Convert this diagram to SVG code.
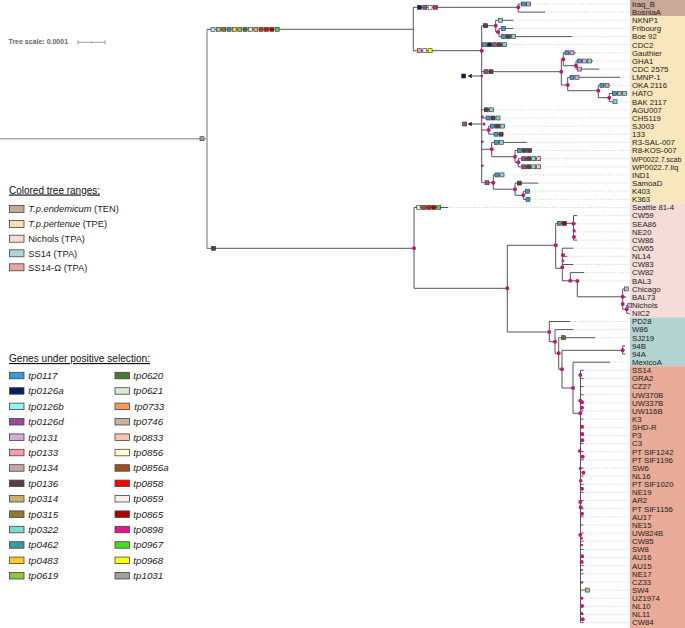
<svg xmlns="http://www.w3.org/2000/svg" width="685" height="628" viewBox="0 0 685 628">
<style>
text{font-family:"Liberation Sans",Arial,sans-serif}
.lab{font-size:7.8px;fill:#222}
.br{fill:none;stroke:#555;stroke-width:1}
.lg{fill:none;stroke:#aaa;stroke-width:1.6}
.dot{fill:none;stroke:#c4c4c4;stroke-width:0.8;stroke-dasharray:1 1.6}
.nd{fill:#c0187a}
.gb{stroke:#333;stroke-width:0.6}
.lb{stroke:#444;stroke-width:0.8}
.c0117{fill:#3a9ad9}.c0126a{fill:#0b1f5c}.c0126b{fill:#8ff5f5}.c0126d{fill:#9b4a96}
.c0131{fill:#d9a8d4}.c0133{fill:#ff99aa}.c0134{fill:#c4a8aa}.c0136{fill:#5a3e44}
.c0314{fill:#c8b464}.c0315{fill:#8b7a30}.c0322{fill:#7ddcc8}.c0462{fill:#3a9a9e}
.c0483{fill:#ffcc22}.c0619{fill:#8dc63f}.c0620{fill:#4f7a2e}.c0621{fill:#d8ecd4}
.c0733{fill:#ff9950}.c0746{fill:#d1b09e}.c0833{fill:#f5c6a8}.c0856{fill:#ffffcc}
.c0856a{fill:#a0501a}.c0858{fill:#ff0000}.c0859{fill:#fdeeee}.c0865{fill:#aa0000}
.c0898{fill:#e8168c}.c0967{fill:#44dd22}.c0968{fill:#ffff00}.c1031{fill:#a0a0a0}
.leg{font-size:9.3px;fill:#222}
.gl{font-size:9.8px;font-style:italic;fill:#222}
.ttl{font-size:11.5px;fill:#111;text-decoration:underline}
</style>

<g id="ranges">
<rect x="630" y="0" width="55" height="16.2" fill="#c9a897"/>
<rect x="630" y="16.2" width="55" height="187.2" fill="#f8e6bd"/>
<rect x="630" y="203.4" width="55" height="114" fill="#f4ddd9"/>
<rect x="630" y="317.4" width="55" height="48.8" fill="#b4d3d0"/>
<rect x="630" y="366.2" width="55" height="261.8" fill="#e8ab97"/>
</g>

<g id="scale">
<text x="8.5" y="43.5" font-size="7" font-weight="bold" fill="#666">Tree scale: 0.0001</text>
<path d="M78,42.3 H105 M78,40.3 V44.3 M105,40.3 V44.3 M91.5,41.3 V43.3" stroke="#888" stroke-width="0.8" fill="none"/>
</g>

<g id="connectors">
<path class="lg" d="M0,138.7 H200 M204,138.7 H207 M207,29.3 V248.3"/>
<path class="dot" d="M531,4 H630 M545,12.1 H630 M513.3,20.3 H630 M513.3,28.4 H630 M572.3,36.6 H630 M507,44.7 H630 M575.7,52.8 H630 M593,61 H630 M599,69.1 H630 M620,77.3 H630 M610,85.4 H630 M627,93.5 H630 M617,101.7 H630 M494,109.8 H630 M500,118 H630 M505,126.1 H630 M504,134.2 H630 M526.7,142.4 H630 M532,150.5 H630 M541,158.7 H630 M541,166.8 H630 M504,174.9 H630 M538.3,183.1 H630 M530,191.2 H630 M530,199.4 H630 M448,207.5 H630 M577,215.6 H630 M576,223.8 H630 M576,231.9 H630 M577,240.1 H630 M573.3,248.2 H630 M567,256.3 H630 M573,264.5 H630 M584,272.6 H630 M577.3,280.8 H630 M626,297 H630 M570,321.5 H630 M573.3,329.6 H630 M595,337.7 H630 M625,345.9 H630 M625,354 H630 M610,362.2 H630 M583.5,370.3 H630 M583.5,378.4 H630 M583.5,386.6 H630 M583.5,394.7 H630 M583.5,402.9 H630 M583.5,411 H630 M583.5,419.1 H630 M583.5,427.3 H630 M583.5,435.4 H630 M583.5,443.6 H630 M583.5,451.7 H630 M583.5,459.8 H630 M583.5,468 H630 M583.5,476.1 H630 M583.5,484.3 H630 M583.5,492.4 H630 M583.5,500.5 H630 M583.5,508.7 H630 M583.5,516.8 H630 M583.5,525 H630 M583.5,533.1 H630 M583.5,541.2 H630 M583.5,549.4 H630 M583.5,557.5 H630 M583.5,565.7 H630 M583.5,573.8 H630 M583.5,581.9 H630 M590,590.1 H630 M583.5,598.2 H630 M583.5,606.4 H630 M583.5,614.5 H630 M583.5,622.6 H630"/>
<path class="br" d="M207,29.3 H413.3 M207,248.3 H414
M413.3,7.3 V50.7 M413.3,7.3 H518.3 M518.3,4 V12.1 M518.3,4 H531 M518.3,12.1 H545
M413.3,50.7 H481.7 M481.7,25.7 V182.7
M481.7,25.7 H495.7 M495.7,20.3 V32 M495.7,20.3 H513.3 M495.7,32 H499 M499,28.4 V36.6 M499,28.4 H513.3 M499,36.6 H572.3
M481.7,44.7 H507
M481.7,71.7 H561.3 M481.7,76 H471.5
M561.3,59.3 V85 M561.3,59.3 H563.3 M563.3,52.8 V65.7 M563.3,52.8 H575.7 M563.3,65.7 H576 M576,61 V69.1 M576,61 H593 M576,69.1 H599
M561.3,85 H567.7 M567.7,77.3 V90.7 M567.7,77.3 H620 M567.7,90.7 H598.3 M598.3,85.4 V97.7 M598.3,85.4 H610 M598.3,97.7 H609.3 M609.3,93.5 V101.7 M609.3,93.5 H627 M609.3,101.7 H617
M481.7,109.8 H494 M481.7,118 H500 M481.7,130 H488.7 M488.7,126.1 V134.2 M488.7,126.1 H505 M488.7,134.2 H504 M481.7,124 H471.5
M481.7,149.3 H491.7 M491.7,142.4 V156.7 M491.7,142.4 H526.7 M491.7,156.7 H515 M515,150.5 V162.3 M515,150.5 H532 M515,162.3 H518.3 M518.3,158.7 V166.8 M518.3,158.7 H541 M518.3,166.8 H541
M481.7,182.7 H493.3 M493.3,174.9 V189.2 M493.3,174.9 H504 M493.3,189.2 H515 M515,183.1 V195.3 M515,183.1 H538.3 M515,195.3 H523.3 M523.3,191.2 V199.4 M523.3,191.2 H530 M523.3,199.4 H530
M414,207.5 V288.3 M414,207.5 H448 M414,288.3 H507.3
M507.3,245.3 V332 M507.3,245.3 H555.7 M555.7,223.3 V268.3 M555.7,223.3 H573.5
M573.5,215.6 V240.1 M573.5,215.6 H577 M573.5,223.8 H576 M573.5,231.9 H576 M573.5,240.1 H577
M555.7,268.3 H562.3 M562.3,248.2 V280.8 M562.3,248.2 H573.3 M562.3,256.3 H567 M562.3,264.5 H573
M562.3,280.8 H577.3 M570.3,272.6 V280.8 M570.3,272.6 H584 M577.3,280.8 V296.8 M577.3,296.8 H622.7
M622.7,288.9 V309.3 M622.7,288.9 H624.5 M622.7,297 H626 M622.7,309.3 H626.7 M626.7,305.2 V313.3 M626.7,305.2 H628 M626.7,313.3 H630
M507.3,332 H549.3 M549.3,321.5 V341.7 M549.3,321.5 H570 M549.3,341.7 H555 M555,329.6 V353.3 M555,329.6 H573.3 M555,353.3 H558.7
M558.7,337.7 V369.3 M558.7,337.7 H595 M558.7,369.3 H562 M562,350.3 V388 M562,350.3 H622.7 M622.7,345.9 V354 M622.7,345.9 H625 M622.7,354 H625
M562,388 H573 M573,362.2 V413.3 M573,362.2 H610 M573,413.3 H580.5 M580.5,370.3 V622.6
M580.5,370.3 H583.5 M580.5,378.4 H583.5 M580.5,386.6 H583.5 M580.5,394.7 H583.5 M580.5,402.9 H583.5 M580.5,411 H583.5 M580.5,419.1 H583.5 M580.5,427.3 H583.5 M580.5,435.4 H583.5 M580.5,443.6 H583.5 M580.5,451.7 H583.5 M580.5,459.8 H583.5 M580.5,468 H583.5 M580.5,476.1 H583.5 M580.5,484.3 H583.5 M580.5,492.4 H583.5 M580.5,500.5 H583.5 M580.5,508.7 H583.5 M580.5,516.8 H583.5 M580.5,525 H583.5 M580.5,533.1 H583.5 M580.5,541.2 H583.5 M580.5,549.4 H583.5 M580.5,557.5 H583.5 M580.5,565.7 H583.5 M580.5,573.8 H583.5 M580.5,581.9 H583.5 M580.5,590.1 H585.3 M580.5,598.2 H583.5 M580.5,606.4 H583.5 M580.5,614.5 H583.5 M580.5,622.6 H583.5"/>
<path d="M467.5,76 L471.8,73.8 L471.8,78.2 Z M467.5,124 L471.8,121.8 L471.8,126.2 Z" fill="#222"/>
</g>

<g id="genes">
<rect class="gb c1031" x="200" y="136.7" width="4" height="4"/>
<rect class="gb c0126b" x="211" y="27.3" width="4" height="4"/>
<rect class="gb c0314" x="216.35" y="27.3" width="4" height="4"/>
<rect class="gb c0315" x="221.7" y="27.3" width="4" height="4"/>
<rect class="gb c0462" x="227.05" y="27.3" width="4" height="4"/>
<rect class="gb c0483" x="232.4" y="27.3" width="4" height="4"/>
<rect class="gb c0619" x="237.75" y="27.3" width="4" height="4"/>
<rect class="gb c0620" x="243.1" y="27.3" width="4" height="4"/>
<rect class="gb c0621" x="248.45" y="27.3" width="4" height="4"/>
<rect class="gb c0733" x="253.8" y="27.3" width="4" height="4"/>
<rect class="gb c0856a" x="259.15" y="27.3" width="4" height="4"/>
<rect class="gb c0858" x="264.5" y="27.3" width="4" height="4"/>
<rect class="gb c0865" x="269.85" y="27.3" width="4" height="4"/>
<rect class="gb c0967" x="275.2" y="27.3" width="4" height="4"/>
<rect class="gb c0136" x="211.5" y="246.3" width="4" height="4"/>
<rect class="gb c0126a" x="417.5" y="5.3" width="4" height="4"/>
<rect class="gb c0126d" x="422.8" y="5.3" width="4" height="4"/>
<rect class="gb c0856" x="428.1" y="5.3" width="4" height="4"/>
<rect class="gb c0898" x="433.4" y="5.3" width="4" height="4"/>
<rect class="gb c0117" x="521.5" y="2" width="4" height="4"/>
<rect class="gb c0134" x="526.5" y="2" width="4" height="4"/>
<rect class="gb c0133" x="417.5" y="48.7" width="4" height="4"/>
<rect class="gb c0859" x="422.8" y="48.7" width="4" height="4"/>
<rect class="gb c0968" x="428.1" y="48.7" width="4" height="4"/>
<rect class="gb c0136" x="483.5" y="23.7" width="4" height="4"/>
<rect class="gb c0322" x="498.5" y="18.3" width="4" height="4"/>
<rect class="gb c0117" x="501.5" y="26.4" width="4" height="4"/>
<rect class="gb c0117" x="501.5" y="34.6" width="4" height="4"/>
<rect class="gb c0136" x="506.5" y="34.6" width="4" height="4"/>
<rect class="gb c0322" x="511.5" y="34.6" width="4" height="4"/>
<rect class="gb c0117" x="482.5" y="42.7" width="4" height="4"/>
<rect class="gb c0126a" x="487.5" y="42.7" width="4" height="4"/>
<rect class="gb c0126d" x="492.5" y="42.7" width="4" height="4"/>
<rect class="gb c0136" x="497.5" y="42.7" width="4" height="4"/>
<rect class="gb c0322" x="502.5" y="42.7" width="4" height="4"/>
<rect class="gb c0126d" x="484" y="69.7" width="4" height="4"/>
<rect class="gb c0136" x="489" y="69.7" width="4" height="4"/>
<rect class="gb c0126a" x="461.7" y="74" width="4" height="4"/>
<rect class="gb c0117" x="565" y="50.8" width="4" height="4"/>
<rect class="gb c0131" x="570" y="50.8" width="4" height="4"/>
<rect class="gb c0117" x="577.5" y="59" width="4" height="4"/>
<rect class="gb c0131" x="582.5" y="59" width="4" height="4"/>
<rect class="gb c0322" x="587.5" y="59" width="4" height="4"/>
<rect class="gb c0131" x="577.5" y="67.1" width="4" height="4"/>
<rect class="gb c0117" x="570" y="75.3" width="4" height="4"/>
<rect class="gb c0131" x="575" y="75.3" width="4" height="4"/>
<rect class="gb c0117" x="600" y="83.4" width="4" height="4"/>
<rect class="gb c0134" x="605" y="83.4" width="4" height="4"/>
<rect class="gb c0117" x="612.5" y="91.5" width="4" height="4"/>
<rect class="gb c0134" x="617.5" y="91.5" width="4" height="4"/>
<rect class="gb c0322" x="622.5" y="91.5" width="4" height="4"/>
<rect class="gb c0322" x="613" y="99.7" width="4" height="4"/>
<rect class="gb c0136" x="484.3" y="107.8" width="4" height="4"/>
<rect class="gb c0322" x="489.3" y="107.8" width="4" height="4"/>
<rect class="gb c0117" x="486" y="116" width="4" height="4"/>
<rect class="gb c0136" x="491" y="116" width="4" height="4"/>
<rect class="gb c0322" x="496" y="116" width="4" height="4"/>
<rect class="gb c0117" x="490.5" y="124.1" width="4" height="4"/>
<rect class="gb c0136" x="495.5" y="124.1" width="4" height="4"/>
<rect class="gb c0322" x="500.5" y="124.1" width="4" height="4"/>
<rect class="gb c0117" x="494" y="132.2" width="4" height="4"/>
<rect class="gb c0136" x="499" y="132.2" width="4" height="4"/>
<rect class="gb c0126d" x="462.7" y="122" width="4" height="4"/>
<rect class="gb c0117" x="494.3" y="140.4" width="4" height="4"/>
<rect class="gb c0322" x="499.3" y="140.4" width="4" height="4"/>
<rect class="gb c0117" x="517.5" y="148.5" width="4" height="4"/>
<rect class="gb c0136" x="522.5" y="148.5" width="4" height="4"/>
<rect class="gb c0136" x="527.5" y="148.5" width="4" height="4"/>
<rect class="gb c0126d" x="521.7" y="156.7" width="4" height="4"/>
<rect class="gb c0136" x="526.7" y="156.7" width="4" height="4"/>
<rect class="gb c0322" x="531.7" y="156.7" width="4" height="4"/>
<rect class="gb c0833" x="536.7" y="156.7" width="4" height="4"/>
<rect class="gb c0126d" x="521.7" y="164.8" width="4" height="4"/>
<rect class="gb c0136" x="526.7" y="164.8" width="4" height="4"/>
<rect class="gb c0322" x="531.7" y="164.8" width="4" height="4"/>
<rect class="gb c0833" x="536.7" y="164.8" width="4" height="4"/>
<rect class="gb c0126d" x="485" y="180.7" width="4" height="4"/>
<rect class="gb c0117" x="495" y="172.9" width="4" height="4"/>
<rect class="gb c0322" x="500" y="172.9" width="4" height="4"/>
<rect class="gb c0136" x="517.3" y="181.1" width="4" height="4"/>
<rect class="gb c0117" x="525.5" y="189.2" width="4" height="4"/>
<rect class="gb c0117" x="526" y="197.4" width="4" height="4"/>
<rect class="gb c0621" x="416.7" y="205.5" width="4" height="4"/>
<rect class="gb c0856a" x="421.7" y="205.5" width="4" height="4"/>
<rect class="gb c0858" x="426.7" y="205.5" width="4" height="4"/>
<rect class="gb c0865" x="431.7" y="205.5" width="4" height="4"/>
<rect class="gb c0967" x="436.7" y="205.5" width="4" height="4"/>
<rect class="gb c0462" x="557.3" y="221.3" width="4" height="4"/>
<rect class="gb c0865" x="562.3" y="221.3" width="4" height="4"/>
<rect class="gb c0131" x="624.5" y="286.9" width="4" height="4"/>
<rect class="gb c0131" x="627.8" y="303.2" width="4" height="4"/>
<rect class="gb c0620" x="561.5" y="335.7" width="4" height="4"/>
<rect class="gb c0746" x="585.3" y="588.1" width="4" height="4"/>
</g>

<g id="nodes" class="nd">
<g id="n-ten"><circle cx="518.3" cy="7.3" r="2"/></g>
<g id="n-tpe"><circle cx="481.7" cy="50.7" r="2"/></g>
<g id="n-nknp"><circle cx="495.7" cy="25.7" r="2"/></g>
<g id="n-frib"><circle cx="498" cy="32" r="2"/></g>
<g id="n-arr1"><circle cx="481.7" cy="76" r="1.3"/></g>
<g id="n-gau0"><circle cx="561.3" cy="71.7" r="2"/></g>
<g id="n-gau1"><circle cx="563.3" cy="59.3" r="2"/></g>
<g id="n-gha"><circle cx="576" cy="65.7" r="2"/></g>
<g id="n-lmnp"><circle cx="567.7" cy="85" r="2"/></g>
<g id="n-oka"><circle cx="598.3" cy="90.7" r="2"/></g>
<g id="n-hato"><circle cx="609.3" cy="97.7" r="2"/></g>
<g id="n-agu"><circle cx="482.3" cy="116.7" r="1.5"/></g>
<g id="n-chs"><circle cx="484" cy="124" r="1.5"/></g>
<g id="n-sj"><circle cx="488.7" cy="130" r="2"/></g>
<g id="n-r3a"><circle cx="482.3" cy="141.7" r="1.3"/></g>
<g id="n-r3"><circle cx="491.7" cy="149.3" r="2"/></g>
<g id="n-r8"><circle cx="515" cy="156.7" r="2"/></g>
<g id="n-wp"><circle cx="518.3" cy="162.3" r="2"/></g>
<g id="n-ind0"><circle cx="482.3" cy="165.7" r="1.3"/></g>
<g id="n-ind"><circle cx="493.3" cy="182.7" r="2"/></g>
<g id="n-sam"><circle cx="515" cy="189.2" r="2"/></g>
<g id="n-k"><circle cx="523.3" cy="195.3" r="2"/></g>
<g id="n-tpa"><circle cx="414" cy="248.3" r="2"/></g>
<g id="n-tpa2"><circle cx="507.3" cy="288.3" r="2"/></g>
<g id="n-nic0"><circle cx="555.7" cy="245.3" r="2"/></g>
<g id="n-cw59a"><circle cx="573.5" cy="223.8" r="2"/></g>
<g id="n-cw59b"><circle cx="574" cy="230.5" r="1.5"/></g>
<g id="n-cw59c"><circle cx="574" cy="237" r="2"/></g>
<g id="n-cw65a"><circle cx="563" cy="255" r="2"/></g>
<g id="n-cw65b"><circle cx="563" cy="260.7" r="1.3"/></g>
<g id="n-cw65c"><circle cx="562.3" cy="267.3" r="2"/></g>
<g id="n-cw82"><circle cx="570.3" cy="280.8" r="2"/></g>
<g id="n-bal3"><circle cx="577.3" cy="281" r="2"/></g>
<g id="n-chi1"><circle cx="622.7" cy="296.8" r="2"/></g>
<g id="n-chi2"><circle cx="622.7" cy="304" r="2"/></g>
<g id="n-nic"><circle cx="626.7" cy="309.3" r="2"/></g>
<g id="n-ss0"><circle cx="549.3" cy="332" r="2"/></g>
<g id="n-ss1"><circle cx="555" cy="341.7" r="2"/></g>
<g id="n-ss2"><circle cx="558.7" cy="353.3" r="2"/></g>
<g id="n-ss3"><circle cx="562" cy="369.3" r="2"/></g>
<g id="n-94"><circle cx="622.7" cy="350.3" r="2"/></g>
<g id="n-ss4"><circle cx="573" cy="388" r="2"/></g>
<g id="n-om0"><circle cx="580.3" cy="413.3" r="2"/></g>
<g id="n-om"><circle cx="580.3" cy="375" r="2"/><circle cx="580.3" cy="400.7" r="2"/><circle cx="582" cy="402.3" r="2"/><circle cx="582" cy="407.7" r="2"/><circle cx="582" cy="426.7" r="2"/><circle cx="582.3" cy="434" r="2"/><circle cx="582.3" cy="440.3" r="2"/><circle cx="579.7" cy="451" r="1.8"/><circle cx="582.7" cy="456.7" r="2"/><circle cx="580.3" cy="468.3" r="1.6"/><circle cx="583.3" cy="472.7" r="2"/><circle cx="580.7" cy="480.7" r="1.8"/><circle cx="582" cy="488.7" r="2"/><circle cx="580.3" cy="502" r="2"/><circle cx="580.7" cy="507.3" r="2"/><circle cx="582" cy="513.7" r="2"/><circle cx="580.3" cy="535" r="2"/><circle cx="581.7" cy="538.3" r="1.3"/><circle cx="582" cy="545" r="1.2"/><circle cx="582" cy="556.3" r="2"/><circle cx="581.7" cy="562" r="2"/><circle cx="582" cy="570" r="1"/><circle cx="582" cy="582.7" r="1"/><circle cx="581.7" cy="598.3" r="1.5"/><circle cx="582" cy="606" r="2"/><circle cx="582" cy="613.3" r="1.3"/><circle cx="582.7" cy="619.3" r="2"/></g>
</g>

<g id="leaves" class="lab">
<g id="l1"><text x="632" y="6.8">Iraq_B</text></g>
<g id="l2"><text x="632" y="14.9">BosniaA</text></g>
<g id="l3"><text x="632" y="23.1">NKNP1</text></g>
<g id="l4"><text x="632" y="31.2">Fribourg</text></g>
<g id="l5"><text x="632" y="39.4">Boe 92</text></g>
<g id="l6"><text x="632" y="47.5">CDC2</text></g>
<g id="l7"><text x="632" y="55.6">Gauthier</text></g>
<g id="l8"><text x="632" y="63.8">GHA1</text></g>
<g id="l9"><text x="632" y="71.9">CDC 2575</text></g>
<g id="l10"><text x="632" y="80.1">LMNP-1</text></g>
<g id="l11"><text x="632" y="88.2">OKA 2116</text></g>
<g id="l12"><text x="632" y="96.3">HATO</text></g>
<g id="l13"><text x="632" y="104.5">BAK 2117</text></g>
<g id="l14"><text x="632" y="112.6">AGU007</text></g>
<g id="l15"><text x="632" y="120.8">CHS119</text></g>
<g id="l16"><text x="632" y="128.9">SJ003</text></g>
<g id="l17"><text x="632" y="137">133</text></g>
<g id="l18"><text x="632" y="145.2">R3-SAL-007</text></g>
<g id="l19"><text x="632" y="153.3">R8-KOS-007</text></g>
<g id="l20"><text x="631.5" y="161.5" textLength="50" lengthAdjust="spacingAndGlyphs">WP0022.7.scab</text></g>
<g id="l21"><text x="632" y="169.6">WP0022.7.liq</text></g>
<g id="l22"><text x="632" y="177.7">IND1</text></g>
<g id="l23"><text x="632" y="185.9">SamoaD</text></g>
<g id="l24"><text x="632" y="194">K403</text></g>
<g id="l25"><text x="632" y="202.2">K363</text></g>
<g id="l26"><text x="632" y="210.3">Seattle 81-4</text></g>
<g id="l27"><text x="632" y="218.4">CW59</text></g>
<g id="l28"><text x="632" y="226.6">SEA86</text></g>
<g id="l29"><text x="632" y="234.7">NE20</text></g>
<g id="l30"><text x="632" y="242.9">CW86</text></g>
<g id="l31"><text x="632" y="251">CW65</text></g>
<g id="l32"><text x="632" y="259.1">NL14</text></g>
<g id="l33"><text x="632" y="267.3">CW83</text></g>
<g id="l34"><text x="632" y="275.4">CW82</text></g>
<g id="l35"><text x="632" y="283.6">BAL3</text></g>
<g id="l36"><text x="632" y="291.7">Chicago</text></g>
<g id="l37"><text x="632" y="299.8">BAL73</text></g>
<g id="l38"><text x="632" y="308">Nichols</text></g>
<g id="l39"><text x="632" y="316.1">NIC2</text></g>
<g id="l40"><text x="632" y="324.3">PD28</text></g>
<g id="l41"><text x="632" y="332.4">W86</text></g>
<g id="l42"><text x="632" y="340.5">SJ219</text></g>
<g id="l43"><text x="632" y="348.7">94B</text></g>
<g id="l44"><text x="632" y="356.8">94A</text></g>
<g id="l45"><text x="632" y="365">MexicoA</text></g>
<g id="l46"><text x="632" y="373.1">SS14</text></g>
<g id="l47"><text x="632" y="381.2">GRA2</text></g>
<g id="l48"><text x="632" y="389.4">CZ27</text></g>
<g id="l49"><text x="632" y="397.5">UW370B</text></g>
<g id="l50"><text x="632" y="405.7">UW337B</text></g>
<g id="l51"><text x="632" y="413.8">UW116B</text></g>
<g id="l52"><text x="632" y="421.9">K3</text></g>
<g id="l53"><text x="632" y="430.1">SHD-R</text></g>
<g id="l54"><text x="632" y="438.2">P3</text></g>
<g id="l55"><text x="632" y="446.4">C3</text></g>
<g id="l56"><text x="632" y="454.5">PT SIF1242</text></g>
<g id="l57"><text x="632" y="462.6">PT SIF1196</text></g>
<g id="l58"><text x="632" y="470.8">SW6</text></g>
<g id="l59"><text x="632" y="478.9">NL16</text></g>
<g id="l60"><text x="632" y="487.1">PT SIF1020</text></g>
<g id="l61"><text x="632" y="495.2">NE19</text></g>
<g id="l62"><text x="632" y="503.3">AR2</text></g>
<g id="l63"><text x="632" y="511.5">PT SIF1156</text></g>
<g id="l64"><text x="632" y="519.6">AU17</text></g>
<g id="l65"><text x="632" y="527.8">NE15</text></g>
<g id="l66"><text x="632" y="535.9">UW824B</text></g>
<g id="l67"><text x="632" y="544">CW85</text></g>
<g id="l68"><text x="632" y="552.2">SW8</text></g>
<g id="l69"><text x="632" y="560.3">AU16</text></g>
<g id="l70"><text x="632" y="568.5">AU15</text></g>
<g id="l71"><text x="632" y="576.6">NE17</text></g>
<g id="l72"><text x="632" y="584.7">CZ33</text></g>
<g id="l73"><text x="632" y="592.9">SW4</text></g>
<g id="l74"><text x="632" y="601">UZ1974</text></g>
<g id="l75"><text x="632" y="609.2">NL10</text></g>
<g id="l76"><text x="632" y="617.3">NL11</text></g>
<g id="l77"><text x="632" y="625.4">CW84</text></g>
</g>

<g id="legend-ranges">
<text class="ttl" x="9" y="193.5" textLength="91" lengthAdjust="spacingAndGlyphs">Colored tree ranges:</text>
<rect class="lb" x="9.5" y="205.5" width="14.5" height="7" fill="#c9a898"/>
<rect class="lb" x="9.5" y="220.5" width="14.5" height="7" fill="#f5e2b4"/>
<rect class="lb" x="9.5" y="235.2" width="14.5" height="7" fill="#f5dcd8"/>
<rect class="lb" x="9.5" y="249.8" width="14.5" height="7" fill="#b2d4d0"/>
<rect class="lb" x="9.5" y="263.8" width="14.5" height="7" fill="#e6a896"/>
<text class="leg" x="28.3" y="212.4"><tspan font-style="italic">T.p.endemicum</tspan> (TEN)</text>
<text class="leg" x="28.3" y="227.4"><tspan font-style="italic">T.p.pertenue</tspan> (TPE)</text>
<text class="leg" x="28.3" y="242.1">Nichols (TPA)</text>
<text class="leg" x="28.3" y="256.7">SS14 (TPA)</text>
<text class="leg" x="28.3" y="270.7">SS14-Ω (TPA)</text>
</g>

<g id="legend-genes">
<text class="ttl" x="9" y="362" textLength="141" lengthAdjust="spacingAndGlyphs">Genes under positive selection:</text>
<g class="lb">
<rect class="c0117" x="9.5" y="372.3" width="14.5" height="6.5"/>
<rect class="c0126a" x="9.5" y="387.7" width="14.5" height="6.5"/>
<rect class="c0126b" x="9.5" y="403.1" width="14.5" height="6.5"/>
<rect class="c0126d" x="9.5" y="418.5" width="14.5" height="6.5"/>
<rect class="c0131" x="9.5" y="433.9" width="14.5" height="6.5"/>
<rect class="c0133" x="9.5" y="449.3" width="14.5" height="6.5"/>
<rect class="c0134" x="9.5" y="464.7" width="14.5" height="6.5"/>
<rect class="c0136" x="9.5" y="480.1" width="14.5" height="6.5"/>
<rect class="c0314" x="9.5" y="495.5" width="14.5" height="6.5"/>
<rect class="c0315" x="9.5" y="510.9" width="14.5" height="6.5"/>
<rect class="c0322" x="9.5" y="526.3" width="14.5" height="6.5"/>
<rect class="c0462" x="9.5" y="541.7" width="14.5" height="6.5"/>
<rect class="c0483" x="9.5" y="557.1" width="14.5" height="6.5"/>
<rect class="c0619" x="9.5" y="572.5" width="14.5" height="6.5"/>
<rect class="c0620" x="115" y="372.3" width="14.5" height="6.5"/>
<rect class="c0621" x="115" y="387.7" width="14.5" height="6.5"/>
<rect class="c0733" x="115" y="403.1" width="14.5" height="6.5"/>
<rect class="c0746" x="115" y="418.5" width="14.5" height="6.5"/>
<rect class="c0833" x="115" y="433.9" width="14.5" height="6.5"/>
<rect class="c0856" x="115" y="449.3" width="14.5" height="6.5"/>
<rect class="c0856a" x="115" y="464.7" width="14.5" height="6.5"/>
<rect class="c0858" x="115" y="480.1" width="14.5" height="6.5"/>
<rect class="c0859" x="115" y="495.5" width="14.5" height="6.5"/>
<rect class="c0865" x="115" y="510.9" width="14.5" height="6.5"/>
<rect class="c0898" x="115" y="526.3" width="14.5" height="6.5"/>
<rect class="c0967" x="115" y="541.7" width="14.5" height="6.5"/>
<rect class="c0968" x="115" y="557.1" width="14.5" height="6.5"/>
<rect class="c1031" x="115" y="572.5" width="14.5" height="6.5"/>
</g>
<g class="gl">
<text x="28.3" y="379">tp0117</text>
<text x="28.3" y="394.4">tp0126a</text>
<text x="28.3" y="409.8">tp0126b</text>
<text x="28.3" y="425.2">tp0126d</text>
<text x="28.3" y="440.6">tp0131</text>
<text x="28.3" y="456">tp0133</text>
<text x="28.3" y="471.4">tp0134</text>
<text x="28.3" y="486.8">tp0136</text>
<text x="28.3" y="502.2">tp0314</text>
<text x="28.3" y="517.6">tp0315</text>
<text x="28.3" y="533">tp0322</text>
<text x="28.3" y="548.4">tp0462</text>
<text x="28.3" y="563.8">tp0483</text>
<text x="28.3" y="579.2">tp0619</text>
<text x="133.3" y="379">tp0620</text>
<text x="133.3" y="394.4">tp0621</text>
<text x="134.3" y="409.8">tp0733</text>
<text x="133.3" y="425.2">tp0746</text>
<text x="133.3" y="440.6">tp0833</text>
<text x="133.3" y="456">tp0856</text>
<text x="133.3" y="471.4">tp0856a</text>
<text x="133.3" y="486.8">tp0858</text>
<text x="133.3" y="502.2">tp0859</text>
<text x="133.3" y="517.6">tp0865</text>
<text x="133.3" y="533">tp0898</text>
<text x="133.3" y="548.4">tp0967</text>
<text x="133.3" y="563.8">tp0968</text>
<text x="133.3" y="579.2">tp1031</text>
</g>
</g>
</svg>
